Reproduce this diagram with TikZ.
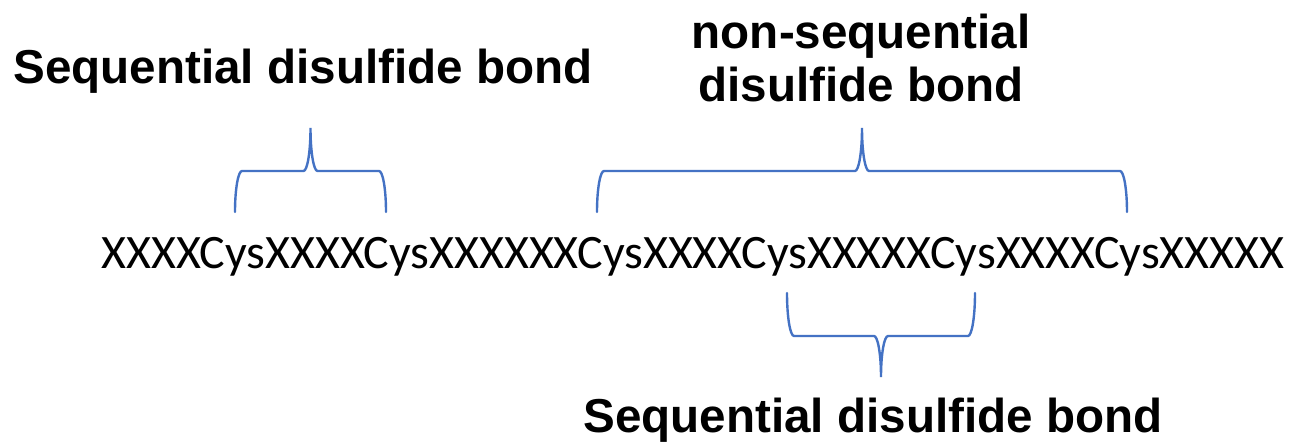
\documentclass[tikz,border=0pt]{standalone}
\usepackage{fontspec}
\setmainfont{Carlito}
\newfontfamily\labelfont{Liberation Sans}
\definecolor{braceblue}{HTML}{4472C4}

% curly brace: legs at x=#1 and x=#2 ending at y=#3, bar at y=#4, tip at y=#5
\newcommand\curlybrace[5]{%
  \pgfmathsetmacro\bm{(#1+#2)/2}%
  \draw[bracestroke]
    (#1,#3) .. controls (#1,{#3+0.5523*(#4-#3)}) and ({#1+0.4477*7},#4) .. ({#1+7},#4)
    -- ({\bm-7},#4)
    .. controls ({\bm-7+0.5523*7},#4) and (\bm,{#5+0.5523*(#4-#5)}) .. (\bm,#5)
    .. controls (\bm,{#5+0.5523*(#4-#5)}) and ({\bm+7-0.5523*7},#4) .. ({\bm+7},#4)
    -- ({#2-7},#4)
    .. controls ({#2-0.4477*7},#4) and (#2,{#3+0.5523*(#4-#3)}) .. (#2,#3);
}

\begin{document}
\begin{tikzpicture}[x=1pt,y=-1pt,
  bracestroke/.style={draw=braceblue,line width=2.4pt,line cap=round},
  seqtext/.style={inner sep=0pt,anchor=base,font=\fontsize{48}{52}\selectfont},
  boldlabel/.style={inner sep=0pt,anchor=base,font=\labelfont\bfseries\fontsize{47.6}{53}\selectfont}]
  \useasboundingbox[fill=white] (0,0) rectangle (1294,442);

  % the peptide sequence
  \node[seqtext] (seq) at (693,268) {XXXXCysXXXXCysXXXXXXCysXXXXCysXXXXXCysXXXXCysXXXXX};

  % labels
  \node[boldlabel] (lab1) at (303,83) {Sequential disulfide bond};
  \node[boldlabel] (lab2a) at (861,48) {non-sequential};
  \node[boldlabel] (lab2b) at (861,101) {disulfide bond};
  \node[boldlabel] (lab3) at (873,432) {Sequential disulfide bond};

  % braces over the bonded cysteine pairs
  \curlybrace{235}{386}{212}{171}{128}
  \curlybrace{597}{1127}{212}{171}{128}
  \curlybrace{787}{975}{293}{336}{377}
\end{tikzpicture}
\end{document}
